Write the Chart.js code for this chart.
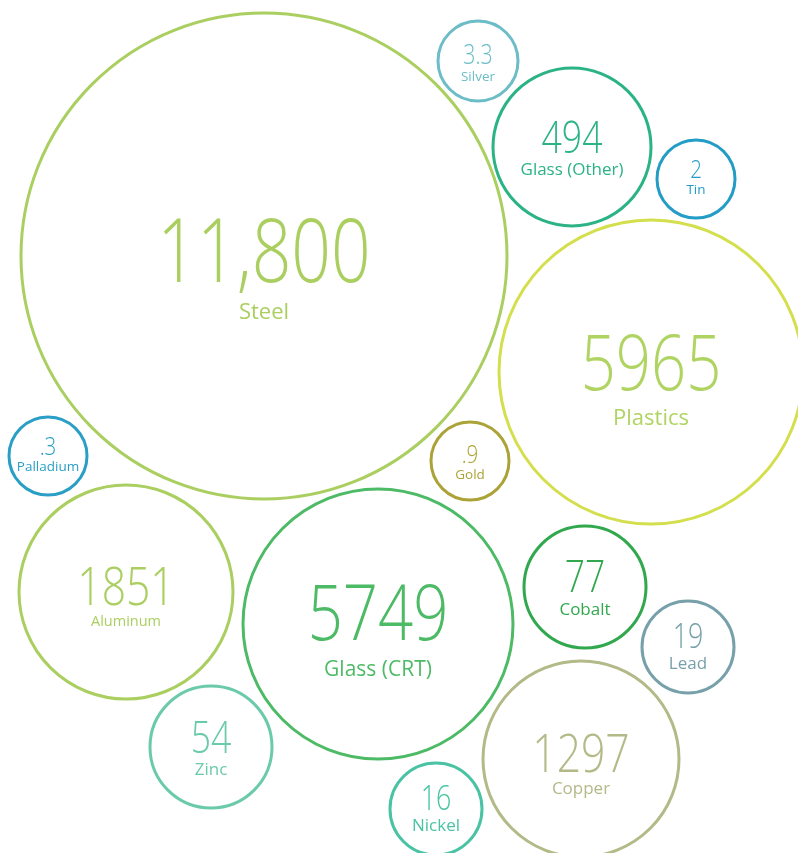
<!DOCTYPE html>
<html>
<head>
<meta charset="utf-8">
<script src="https://cdn.jsdelivr.net/npm/chart.js@4.4.1/dist/chart.umd.min.js"></script>
<style>
  body { margin: 0; background: #fff; }
  #wrap { position: relative; width: 798px; height: 853px; }
</style>
</head>
<body>
<div id="wrap"><canvas id="chartcontainer"></canvas></div>
<script>
// materiaux et quantites
var materials = ['Steel', 'Silver', 'Glass (Other)', 'Tin', 'Plastics', 'Palladium', 'Gold',
                 'Aluminum', 'Glass (CRT)', 'Cobalt', 'Lead', 'Copper', 'Zinc', 'Nickel'];
var amounts = [11800, 3.3, 494, 2, 5965, 0.3, 0.9, 1851, 5749, 77, 19, 1297, 54, 16];

// mise en page des bulles (centre en px, rayon en px)
var centerX = [264, 478, 572, 696, 651, 48, 470, 126, 378, 585, 688, 581, 211, 436];
var centerY = [256, 61, 147, 179, 372, 456, 461, 592, 624, 587, 647, 759, 747, 809];
var radius  = [243, 40, 79, 39, 152, 39, 39, 107, 135, 61, 46, 98, 61, 46];

// styles : couleur du cercle, couleur du texte, tailles et decalages du texte
var ringColors = ['#aacf60', '#6cbdc7', '#2bb385', '#239dc5', '#d3df4c', '#2a9fc6', '#aca338',
                  '#aacf60', '#4dba66', '#31a84d', '#77a0aa', '#b4b988', '#6acaab', '#4ac3a4'];
var textColors = ['#aacf60', '#6cbdc7', '#2bb385', '#239dc5', '#b0d462', '#2a9fc6', '#aca338',
                  '#aacf60', '#4dba66', '#31a84d', '#77a0aa', '#b4b988', '#6acaab', '#4ac3a4'];
var numSize   = [88, 27, 45, 26, 78, 26, 26, 54, 78, 45, 34, 54, 45, 34];
var labelSize = [22, 13.5, 17, 13.5, 22, 13.5, 13.5, 14.5, 21, 17, 17, 17, 17, 17];
var numDy     = [26, 3, 6, -1, 18, -1, 2, 13, 16, 5, 1, 13, 6, 1];
var labelDy   = [63, 20, 28, 15, 53, 15, 18, 34, 52, 28, 22, 35, 28, 22];
var squeeze = 0.79; // les chiffres de l'original sont plus etroits

function fmt(v) {
    if (v >= 10000) return v.toLocaleString('en-US');
    if (v < 1) return String(v).replace(/^0/, '');
    return String(v);
}

var points = [];
for (var i = 0; i < materials.length; i++) {
    points.push({x: centerX[i], y: centerY[i], r: radius[i]});
}

var textPlugin = {
    id: 'bubbleText',
    afterDatasetsDraw: function(chart) {
        var ctx = chart.ctx;
        var meta = chart.getDatasetMeta(0);
        ctx.textAlign = 'center';
        ctx.textBaseline = 'alphabetic';
        meta.data.forEach(function(el, i) {
            ctx.save();
            ctx.fillStyle = textColors[i];
            ctx.translate(el.x, el.y + numDy[i]);
            ctx.scale(squeeze, 1);
            ctx.font = '300 ' + numSize[i] + 'px "Open Sans", sans-serif';
            ctx.fillText(fmt(amounts[i]), 0, 0);
            ctx.restore();
            ctx.save();
            ctx.fillStyle = textColors[i];
            ctx.font = '400 ' + labelSize[i] + 'px "Open Sans", sans-serif';
            ctx.fillText(materials[i], el.x, el.y + labelDy[i]);
            ctx.restore();
        });
    }
};

var ctx = document.getElementById('chartcontainer').getContext('2d');
var chart = new Chart(ctx, {
    type: 'bubble',
    data: {
        labels: materials,
        datasets: [{
            data: points,
            backgroundColor: 'rgba(255,255,255,0)',
            borderColor: ringColors,
            borderWidth: 3,
            hoverBorderWidth: 3,
            clip: false
        }]
    },
    options: {
        responsive: true,
        maintainAspectRatio: false,
        animation: false,
        layout: { padding: 0, autoPadding: false },
        plugins: {
            legend: { display: false },
            tooltip: { enabled: false },
            title: { display: false }
        },
        scales: {
            x: { type: 'linear', min: 0, max: 798, display: false },
            y: { type: 'linear', min: 0, max: 853, reverse: true, display: false }
        }
    },
    plugins: [textPlugin]
});
</script>
</body>
</html>
